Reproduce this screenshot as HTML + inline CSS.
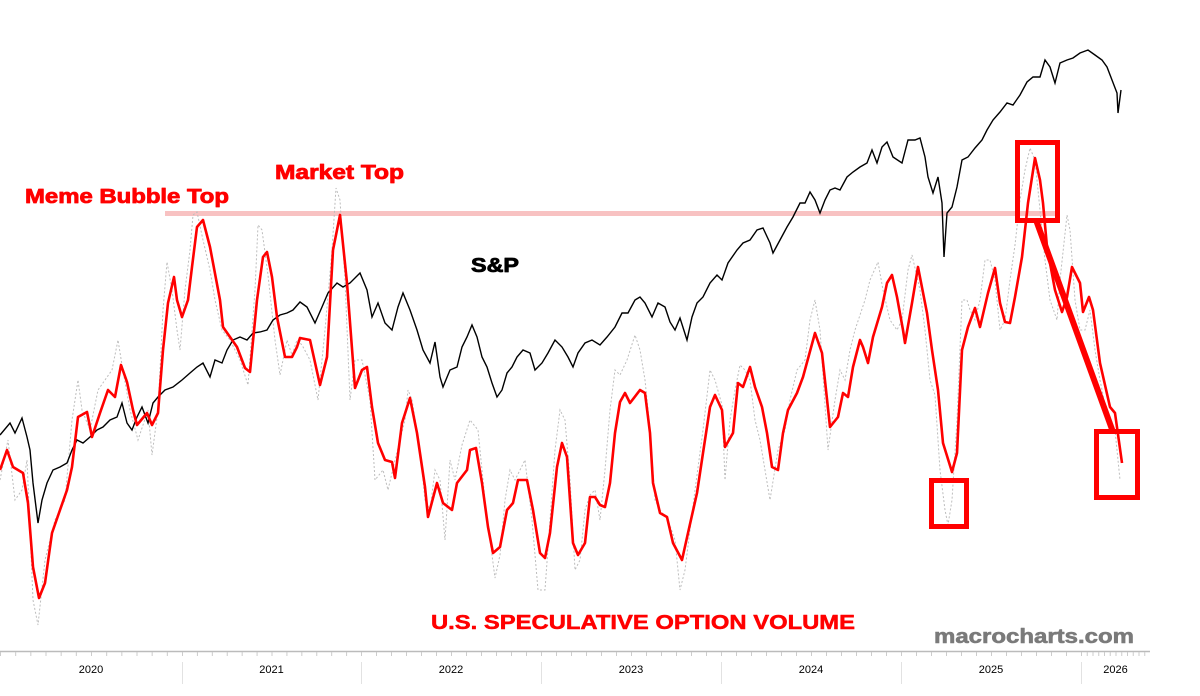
<!DOCTYPE html>
<html><head><meta charset="utf-8">
<style>
html,body{margin:0;padding:0;background:#fff;}
svg{display:block;font-family:"Liberation Sans",sans-serif;}
</style></head>
<body>
<svg id="chart" width="1200" height="696" viewBox="0 0 1200 696" xmlns="http://www.w3.org/2000/svg">
<rect x="0" y="0" width="1200" height="696" fill="#fff"/>
<g id="axis"></g>
<rect x="165" y="211" width="890" height="5" fill="#f8c2c2"/>
<g id="series"></g>
<g fill="none" stroke="#ff0000" stroke-width="5">
<rect x="1017.5" y="142.5" width="40" height="78"/>
<rect x="931.5" y="480.5" width="35" height="46"/>
<rect x="1096.5" y="431.5" width="41" height="66"/>
<line x1="1036" y1="220" x2="1113" y2="432" stroke-width="6"/>
</g>
<g font-weight="bold" stroke-linejoin="round">
<text x="25" y="203" font-size="20" fill="#ff0000" stroke="#ff0000" stroke-width="0.8" textLength="204" lengthAdjust="spacingAndGlyphs">Meme Bubble Top</text>
<text x="275" y="179" font-size="20" fill="#ff0000" stroke="#ff0000" stroke-width="0.8" textLength="129" lengthAdjust="spacingAndGlyphs">Market Top</text>
<text x="471" y="272" font-size="20" fill="#000" stroke="#000" stroke-width="0.8" textLength="48" lengthAdjust="spacingAndGlyphs">S&amp;P</text>
<text x="431" y="629" font-size="20" fill="#ff0000" stroke="#ff0000" stroke-width="0.5" textLength="424" lengthAdjust="spacingAndGlyphs">U.S. SPECULATIVE OPTION VOLUME</text>
<text x="934" y="643" font-size="20" fill="#7a7a7a" stroke="#7a7a7a" stroke-width="0.6" textLength="200" lengthAdjust="spacingAndGlyphs">macrocharts.com</text>
</g>
</svg>
<script>
const yearLabels = ["2020","2021","2022","2023","2024","2025","2026"];
const yearStarts = [0,364,722,1082,1442,1802,2162,2300];

const redDays = [0,14,26,46,56,66,78,90,104,120,134,144,156,174,184,200,216,230,242,254,266,274,294,304,316,326,336,348,354,364,376,384,394,406,420,440,446,460,474,490,500,514,526,534,544,554,570,584,594,600,620,640,654,666,680,694,710,724,734,744,756,770,784,790,804,820,834,850,856,874,886,904,914,934,940,952,964,976,986,1000,1014,1026,1036,1054,1066,1080,1090,1100,1114,1124,1134,1146,1156,1170,1180,1190,1200,1210,1220,1230,1240,1250,1260,1280,1290,1300,1306,1320,1334,1346,1364,1376,1394,1406,1420,1430,1444,1450,1466,1476,1486,1500,1510,1524,1534,1544,1556,1566,1576,1594,1606,1630,1644,1660,1676,1686,1696,1706,1720,1726,1736,1746,1764,1774,1784,1794,1806,1810,1824,1836,1854,1864,1876,1886,1904,1914,1924,1936,1950,1960,1976,1990,2000,2010,2020,2030,2044,2056,2070,2080,2086,2094,2110,2124,2134,2144,2160,2166,2178,2186,2200,2220,2230,2244];
const redVals = [180,200,183,177,147,83,52,67,117,140,160,183,233,238,213,237,260,253,285,268,240,225,237,225,237,300,347,373,350,333,350,383,423,430,403,350,323,313,303,282,278,350,393,398,373,333,293,293,303,312,310,265,293,400,435,367,262,280,283,243,207,190,188,172,227,252,217,163,133,167,147,140,167,180,200,202,167,123,97,103,140,147,170,170,140,97,92,117,183,207,193,107,95,107,153,153,145,143,167,217,248,257,247,260,257,217,167,137,133,107,90,117,157,197,243,255,240,203,217,267,263,283,263,243,217,183,180,217,240,257,273,317,297,223,233,257,253,283,310,303,287,313,343,367,375,353,320,307,347,383,337,300,260,207,178,197,300,323,342,323,357,382,347,328,327,353,393,447,492,470,447,403,360,338,353,383,367,338,353,340,287,243,237,187];

const grayDays = [0,16,30,44,54,66,76,90,110,130,144,156,164,180,196,210,224,236,244,260,276,296,304,316,326,334,344,354,360,370,380,386,394,406,420,430,444,460,480,496,510,516,524,536,550,560,574,584,594,604,620,636,650,664,672,680,690,700,710,724,740,750,766,776,790,800,810,816,824,840,850,860,870,880,890,900,910,924,940,956,970,980,990,1000,1010,1020,1030,1040,1050,1064,1076,1090,1100,1110,1120,1130,1140,1150,1160,1170,1180,1190,1200,1210,1220,1230,1240,1254,1270,1280,1290,1300,1310,1320,1336,1350,1360,1370,1380,1390,1406,1420,1430,1444,1450,1460,1470,1480,1490,1500,1510,1520,1530,1540,1556,1570,1580,1594,1610,1620,1630,1640,1656,1670,1680,1690,1700,1710,1720,1730,1740,1756,1766,1780,1794,1804,1816,1824,1840,1850,1860,1870,1880,1890,1896,1904,1914,1924,1934,1940,1950,1960,1970,1980,1990,2000,2010,2020,2030,2040,2050,2060,2070,2080,2090,2100,2114,2120,2134,2140,2150,2160,2170,2180,2190,2200,2216,2230,2240];
const grayVals = [170,210,150,160,190,50,25,90,130,150,230,270,240,220,260,270,280,310,285,240,210,240,195,240,340,388,360,320,300,360,400,435,438,410,380,350,320,310,290,265,360,425,420,375,310,275,310,295,310,305,290,250,320,400,462,450,370,250,290,290,250,170,180,160,190,210,230,260,250,200,150,140,180,170,110,190,170,205,230,220,150,110,72,95,150,180,170,180,190,130,60,60,130,200,240,230,170,80,90,140,155,160,130,180,240,280,275,290,315,300,270,220,150,140,130,110,60,80,120,160,220,280,270,245,170,230,260,285,280,270,230,210,180,150,200,220,250,280,290,330,350,320,200,250,280,270,300,320,335,350,370,388,360,330,320,330,380,395,360,320,270,255,180,140,125,150,230,350,350,340,330,350,390,390,370,320,330,370,405,450,480,502,490,440,390,350,330,370,435,420,350,320,320,340,300,270,230,220,170];

const spDays = [0,20,30,44,54,60,66,76,84,94,106,120,134,144,154,166,180,194,206,220,234,244,254,264,274,284,296,306,316,330,346,364,380,394,406,420,430,444,454,466,480,494,506,520,534,546,560,574,586,600,614,630,644,656,674,686,700,720,734,744,756,770,784,796,806,820,834,846,860,870,880,886,900,914,924,934,944,954,964,974,984,994,1004,1014,1024,1034,1046,1060,1070,1084,1096,1110,1124,1136,1146,1156,1170,1184,1200,1214,1230,1244,1256,1270,1280,1290,1304,1316,1330,1340,1350,1360,1374,1384,1394,1406,1420,1434,1444,1456,1474,1486,1500,1514,1526,1540,1546,1560,1574,1586,1600,1610,1620,1630,1640,1650,1660,1670,1680,1694,1706,1720,1734,1744,1754,1764,1774,1786,1804,1816,1830,1840,1850,1856,1866,1876,1884,1888,1894,1904,1914,1924,1936,1950,1964,1974,1986,2000,2014,2026,2040,2054,2066,2080,2090,2100,2110,2120,2134,2146,2160,2176,2190,2204,2214,2224,2234,2236,2242];
const spVals = [3250,3370,3270,3420,3230,3100,2770,2370,2600,2770,2900,2930,2970,3100,3200,3170,3230,3300,3330,3400,3430,3570,3370,3300,3430,3530,3370,3570,3630,3700,3730,3800,3870,3930,3970,3830,4000,3970,4100,4200,4230,4200,4270,4280,4300,4400,4450,4470,4500,4580,4530,4370,4530,4670,4770,4730,4770,4870,4700,4430,4570,4370,4300,4530,4670,4500,4300,4100,3970,4180,3830,3730,3900,3930,4130,4230,4350,4230,4030,3930,3770,3630,3700,3870,3930,4030,4100,4070,3900,3970,4070,4200,4130,4030,3930,4070,4170,4200,4150,4230,4330,4470,4470,4600,4630,4570,4430,4570,4530,4380,4300,4420,4200,4430,4570,4630,4770,4850,4800,4970,5100,5170,5200,5300,5320,5170,5070,5200,5330,5430,5570,5570,5680,5600,5470,5600,5700,5720,5700,5830,5880,5930,5970,6100,5970,6130,6180,6030,5970,6200,6200,6220,6030,5830,5670,5830,5570,5030,5470,5530,5730,6000,6030,6120,6200,6300,6400,6480,6570,6550,6650,6780,6830,6830,7000,6930,6770,6970,7000,7020,7070,7100,7050,7000,6930,6800,6670,6470,6700];

const NS = "http://www.w3.org/2000/svg";
function xScale(d){ return d / 2; }
function yVol(v){ return 650 - v; }
function ySP(v){ return 760 - v / 10; }
function pathFrom(days, vals, yf){
  const n = Math.min(days.length, vals.length);
  let s = "";
  for (let i = 0; i < n; i++) s += (i ? "L" : "M") + xScale(days[i]).toFixed(1) + "," + yf(vals[i]).toFixed(1);
  return s;
}
const series = document.getElementById("series");
const axis = document.getElementById("axis");

const gray = document.createElementNS(NS, "path");


gray.setAttribute("d", pathFrom(grayDays, grayVals, yVol));
gray.setAttribute("fill", "none"); gray.setAttribute("stroke", "#bdbdbd");
gray.setAttribute("stroke-width", "1"); gray.setAttribute("stroke-dasharray", "2,2");
series.appendChild(gray);

const sp = document.createElementNS(NS, "path");


sp.setAttribute("d", pathFrom(spDays, spVals, ySP));
sp.setAttribute("fill", "none"); sp.setAttribute("stroke", "#000");
sp.setAttribute("stroke-width", "1.4");
series.appendChild(sp);

const red = document.createElementNS(NS, "path");


red.setAttribute("d", pathFrom(redDays, redVals, yVol));
red.setAttribute("fill", "none"); red.setAttribute("stroke", "#ff0000");
red.setAttribute("stroke-width", "2.6"); red.setAttribute("stroke-linejoin", "round");
series.appendChild(red);

const base = document.createElementNS(NS, "line");


base.setAttribute("x1", 0); base.setAttribute("x2", 1150);
base.setAttribute("y1", 651.5); base.setAttribute("y2", 651.5);
base.setAttribute("stroke", "#bbb"); base.setAttribute("stroke-width", "1.5");
axis.appendChild(base);
for (let i = 0; i < yearLabels.length; i++) {
  const a = yearStarts[i], b = yearStarts[i + 1];
  for (let m = 0; m < 12; m++) {
    const d = a + (b - a) * m / 12;
    if (xScale(d) > 1148) break;
    const t = document.createElementNS(NS, "line");
    
    
    t.setAttribute("x1", xScale(d) + 0.5); t.setAttribute("x2", xScale(d) + 0.5);
    t.setAttribute("y1", 652); t.setAttribute("y2", 656);
    t.setAttribute("stroke", "#ccc");
    axis.appendChild(t);
  }
  if (i > 0) {
    const sep = document.createElementNS(NS, "line");
    
    
    sep.setAttribute("x1", xScale(a) + 0.5); sep.setAttribute("x2", xScale(a) + 0.5);
    sep.setAttribute("y1", 662); sep.setAttribute("y2", 684);
    sep.setAttribute("stroke", "#e2e2e2");
    axis.appendChild(sep);
  }
  const lab = document.createElementNS(NS, "text");
  
  
  lab.setAttribute("x", xScale((a + b) / 2)); lab.setAttribute("y", 673);
  lab.setAttribute("text-anchor", "middle"); lab.setAttribute("font-size", "11");
  lab.setAttribute("fill", "#000");
  lab.textContent = yearLabels[i];
  axis.appendChild(lab);
}
</script>
</body></html>
